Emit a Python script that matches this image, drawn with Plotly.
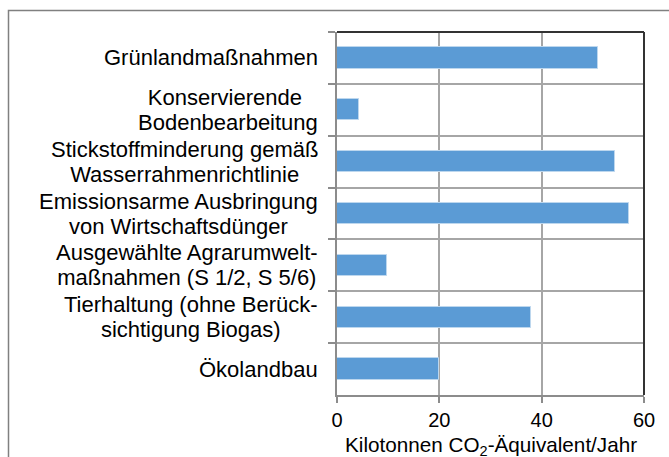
import plotly.graph_objects as go

categories = [
    "Grünlandmaßnahmen",
    "Konservierende <br>Bodenbearbeitung",
    "Stickstoffminderung gemäß<br>Wasserrahmenrichtlinie",
    "Emissionsarme Ausbringung<br>von Wirtschaftsdünger",
    "Ausgewählte Agrarumwelt-<br>maßnahmen (S 1/2, S 5/6)",
    "Tierhaltung (ohne Berück-<br>sichtigung Biogas)",
    "Ökolandbau",
]
values = [51.1, 4.3, 54.3, 57.1, 9.8, 38.0, 20.0]
x_ticks = [0, 20, 40, 60]
x_title = "Kilotonnen CO<sub>2</sub>-Äquivalent/Jahr"

FONT = "Liberation Sans, Arial, sans-serif"
GRID = "#a6a6a6"

fig = go.Figure()
fig.add_trace(go.Bar(
    y=categories, x=values, orientation="h",
    width=0.41,
    marker=dict(color="#5b9bd5", line=dict(color="#bdd7ee", width=1)),
))

for c in categories:
    fig.add_annotation(
        x=0, xref="paper", y=c, yref="y",
        text="<span style='font-size:22px'>" + c.replace("<br>", "</span><br><span style='font-size:22px'>") + "</span>",
        showarrow=False, xanchor="right", align="center",
        xshift=-17, font=dict(family=FONT, size=19.2, color="#000000"),
    )

# x-axis title
fig.add_annotation(
    x=0.5, xref="paper", y=(395 - 445.5) / 363, yref="paper",
    text=x_title, showarrow=False, xanchor="center", yanchor="middle",
    font=dict(family=FONT, size=20.7, color="#000000"),
)

fig.update_layout(
    width=669, height=457,
    margin=dict(l=337, r=25, t=32, b=62),
    paper_bgcolor="white", plot_bgcolor="white",
    showlegend=False,
    font=dict(family=FONT, size=20, color="#000000"),
    bargap=0,
    xaxis=dict(
        range=[0, 60], tickvals=x_ticks, ticktext=[str(v) for v in x_ticks],
        showgrid=True, gridcolor=GRID, gridwidth=1.5,
        showline=True, linecolor="#8c8c8c", linewidth=1.5,
        ticks="outside", ticklen=6, tickcolor="#8c8c8c", tickwidth=1.5,
        tickfont=dict(family=FONT, size=20, color="#000000"),
        zeroline=False, fixedrange=True, automargin=False,
    ),
    yaxis=dict(
        type="category", autorange="reversed",
        tickson="boundaries", showticklabels=False,
        showgrid=True, gridcolor=GRID, gridwidth=1.5,
        showline=True, linecolor="#8c8c8c", linewidth=1.5,
        ticks="outside", ticklen=7, tickcolor="#8c8c8c", tickwidth=1.5,
        zeroline=False, fixedrange=True, automargin=False,
    ),
)

# dark top and right border of the plot area
fig.add_shape(type="line", xref="paper", yref="paper", x0=0, x1=1, y0=1, y1=1,
              line=dict(color="#333333", width=2))
fig.add_shape(type="line", xref="paper", yref="paper", x0=1, x1=1, y0=0, y1=1,
              line=dict(color="#333333", width=2))
# outer chart frame
fig.add_shape(type="rect", xref="paper", yref="paper",
              x0=(8.5 - 337) / 307, x1=(680 - 337) / 307,
              y0=(395 - 470) / 363, y1=(395 - 10.5) / 363,
              line=dict(color="#808080", width=1.5), layer="below")

fig.write_html("out.html", config={"displayModeBar": False},
               post_script="document.body.style.margin='0';")
